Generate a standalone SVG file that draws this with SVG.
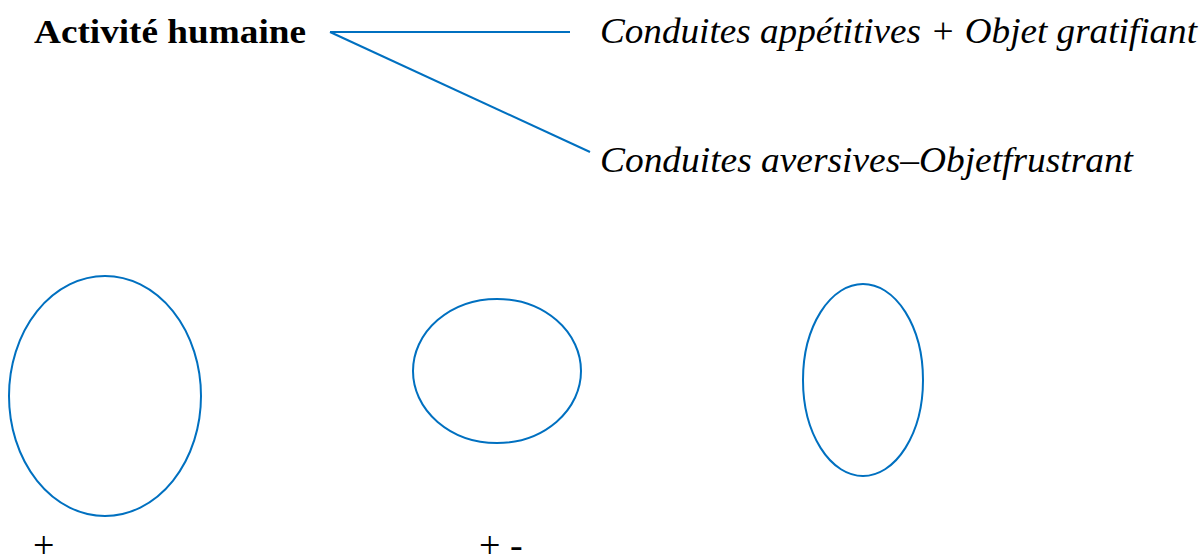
<svg xmlns="http://www.w3.org/2000/svg" width="1203" height="559" viewBox="0 0 1203 559">
<style>
.c{stroke:#0070c0;stroke-width:2;fill:none}
</style>
<rect width="1203" height="559" fill="#fff"/>
<g id="connectors">
<line class="c" x1="330" y1="32" x2="570" y2="32"/>
<line class="c" x1="330" y1="32" x2="590" y2="152"/>
</g>
<g id="activite"><text font-family="Liberation Serif, DejaVu Serif, serif" font-size="33" font-weight="bold" x="34" y="43" textLength="272" lengthAdjust="spacingAndGlyphs">Activité humaine</text></g>
<g id="appetitives"><text font-family="Liberation Serif, DejaVu Serif, serif" font-size="35.5" font-style="italic" x="600" y="43" textLength="597" lengthAdjust="spacingAndGlyphs">Conduites appétitives + Objet gratifiant</text></g>
<g id="aversives"><text font-family="Liberation Serif, DejaVu Serif, serif" font-size="35.5" font-style="italic" x="600" y="172" textLength="533" lengthAdjust="spacingAndGlyphs">Conduites aversives–Objetfrustrant</text></g>
<g id="ellipse1"><ellipse class="c" cx="105" cy="396" rx="96" ry="120"/></g>
<g id="ellipse2"><ellipse class="c" cx="497" cy="371" rx="84" ry="72"/></g>
<g id="ellipse3"><ellipse class="c" cx="863" cy="380" rx="60" ry="96"/></g>
<g id="plus1"><text font-family="Liberation Serif, DejaVu Serif, serif" font-size="38" x="33" y="558">+</text></g>
<g id="plusminus"><text font-family="Liberation Serif, DejaVu Serif, serif" font-size="38" x="479" y="558">+ -</text></g>
</svg>
